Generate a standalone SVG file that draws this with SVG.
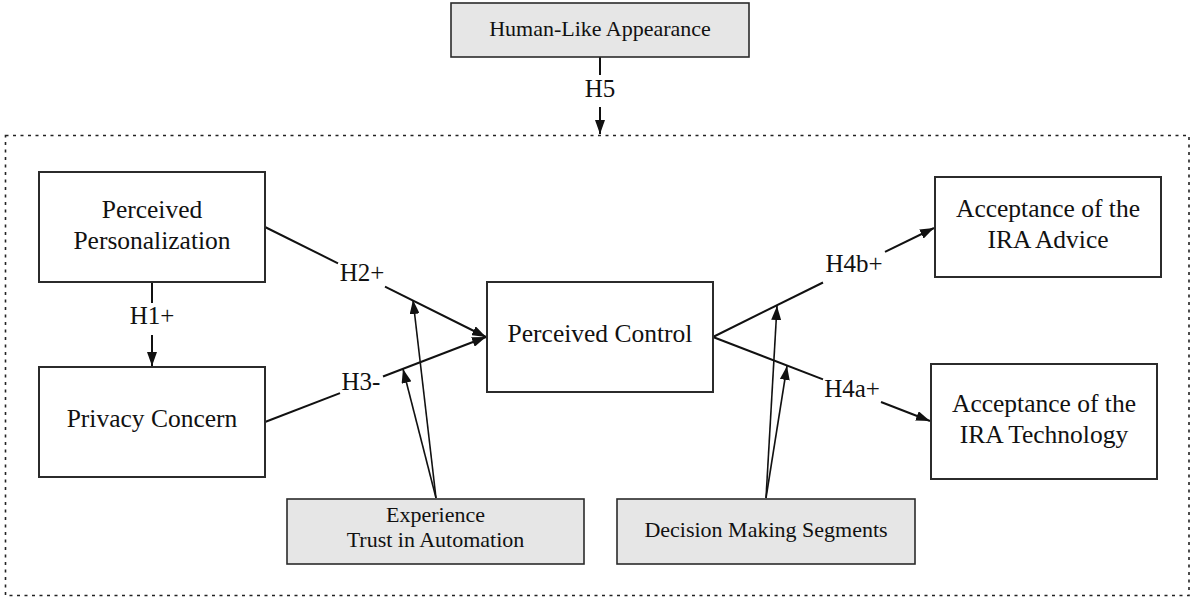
<svg xmlns="http://www.w3.org/2000/svg" width="1195" height="601" viewBox="0 0 1195 601">
  <style>
    .box { fill: #ffffff; stroke: #2b2b2b; stroke-width: 2; }
    .gbox { fill: #e6e6e6; stroke: #2b2b2b; stroke-width: 1.6; }
    .t { font-family: "Liberation Serif", "Times New Roman", serif; fill: #111; text-anchor: middle; }
    .big { font-size: 25.5px; }
    .small { font-size: 22px; }
    .lbl { font-size: 25px; }
    .ln { stroke: #111; stroke-width: 2; fill: none; }
    .thin { stroke: #111; stroke-width: 1.6; fill: none; }
    .frame { fill: none; stroke: #222; stroke-width: 1.6; stroke-dasharray: 3 4.5; }
  </style>
  <defs>
    <marker id="arrow" viewBox="0 0 14 10" refX="14" refY="5" markerWidth="14" markerHeight="10" markerUnits="userSpaceOnUse" orient="auto">
      <path d="M0,0 L14,5 L0,10 Z" fill="#111"/>
    </marker>
  </defs>

  <rect width="1195" height="601" fill="#ffffff"/>

  <!-- moderating frame -->
  <rect class="frame" x="5.5" y="135.5" width="1183.5" height="460"/>

  <!-- connectors -->
  <g id="connectors">
    <!-- H5 -->
    <line class="ln" x1="600" y1="57" x2="600" y2="75"/>
    <line class="ln" x1="600" y1="107" x2="600" y2="134" marker-end="url(#arrow)"/>
    <!-- H1+ -->
    <line class="ln" x1="152" y1="282" x2="152" y2="303"/>
    <line class="ln" x1="152" y1="335" x2="152" y2="366" marker-end="url(#arrow)"/>
    <!-- H2+ -->
    <line class="ln" x1="265" y1="227" x2="338" y2="263.3"/>
    <line class="ln" x1="385" y1="286.7" x2="486" y2="337" marker-end="url(#arrow)"/>
    <!-- H3- -->
    <line class="ln" x1="265" y1="422" x2="340" y2="393.1"/>
    <line class="ln" x1="383" y1="376.5" x2="486" y2="337" marker-end="url(#arrow)"/>
    <!-- H4b+ -->
    <line class="ln" x1="713" y1="337" x2="823" y2="282.5"/>
    <line class="ln" x1="885" y1="251.8" x2="934" y2="228" marker-end="url(#arrow)"/>
    <!-- H4a+ -->
    <line class="ln" x1="713" y1="337" x2="823" y2="379.4"/>
    <line class="ln" x1="881" y1="402" x2="930" y2="421" marker-end="url(#arrow)"/>
    <!-- moderator: experience / trust -->
    <line class="thin" x1="436" y1="498" x2="413" y2="300" marker-end="url(#arrow)"/>
    <line class="thin" x1="436" y1="498" x2="403" y2="369" marker-end="url(#arrow)"/>
    <!-- moderator: decision making segments -->
    <line class="thin" x1="766" y1="498" x2="777" y2="306" marker-end="url(#arrow)"/>
    <line class="thin" x1="766" y1="498" x2="787" y2="366" marker-end="url(#arrow)"/>
  </g>

  <!-- hypothesis labels -->
  <g id="labels" class="t lbl">
    <text x="600" y="97">H5</text>
    <text x="152" y="324">H1+</text>
    <text x="362" y="281">H2+</text>
    <text x="361" y="390">H3-</text>
    <text x="854" y="272">H4b+</text>
    <text x="852" y="397">H4a+</text>
  </g>

  <g id="human-like">
    <rect class="gbox" x="451" y="3" width="298" height="54"/>
    <text class="t small" x="600" y="36">Human-Like Appearance</text>
  </g>

  <g id="personalization">
    <rect class="box" x="39" y="172" width="226" height="110"/>
    <text class="t big" x="152" y="218">Perceived</text>
    <text class="t big" x="152" y="249">Personalization</text>
  </g>

  <g id="privacy">
    <rect class="box" x="39" y="367" width="226" height="110"/>
    <text class="t big" x="152" y="427">Privacy Concern</text>
  </g>

  <g id="control">
    <rect class="box" x="487" y="282" width="226" height="110"/>
    <text class="t big" x="600" y="342">Perceived Control</text>
  </g>

  <g id="advice">
    <rect class="box" x="935" y="177" width="226" height="100"/>
    <text class="t big" x="1048" y="217">Acceptance of the</text>
    <text class="t big" x="1048" y="248">IRA Advice</text>
  </g>

  <g id="technology">
    <rect class="box" x="931" y="364" width="226" height="115"/>
    <text class="t big" x="1044" y="412">Acceptance of the</text>
    <text class="t big" x="1044" y="443">IRA Technology</text>
  </g>

  <g id="experience">
    <rect class="gbox" x="287" y="499" width="297" height="65"/>
    <text class="t small" x="435.5" y="522">Experience</text>
    <text class="t small" x="435.5" y="547">Trust in Automation</text>
  </g>

  <g id="segments">
    <rect class="gbox" x="617" y="499" width="298" height="65"/>
    <text class="t small" x="766" y="537">Decision Making Segments</text>
  </g>
</svg>
